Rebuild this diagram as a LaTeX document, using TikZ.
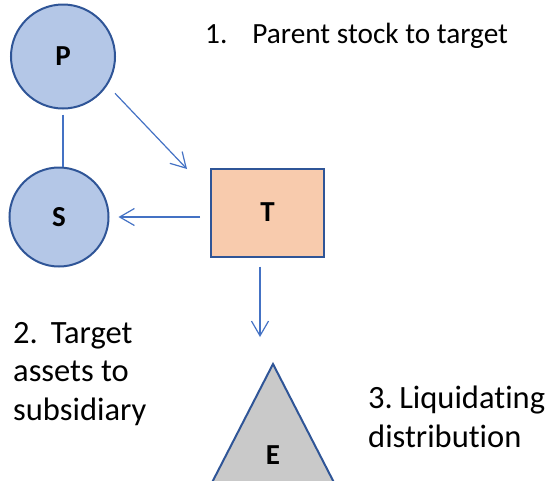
\documentclass[tikz,border=0pt]{standalone}
\usepackage{fontspec}
\setmainfont{Carlito}[Ligatures=NoCommon]
\usetikzlibrary{arrows.meta,positioning}
\definecolor{edge}{HTML}{2F5597}
\definecolor{flowblue}{HTML}{4472C4}
\definecolor{corpfill}{HTML}{B4C7E7}
\definecolor{targetfill}{HTML}{F8CBAD}
\definecolor{holderfill}{HTML}{C9C9C9}

\begin{document}
\begin{tikzpicture}[
  x=1pt, y=-1pt,
  corp/.style={circle, draw=edge, fill=corpfill, line width=2pt, inner sep=0pt,
    font=\fontsize{29}{32}\selectfont\bfseries},
  target/.style={rectangle, draw=edge, fill=targetfill, line width=2pt,
    minimum width=113pt, minimum height=88pt,
    font=\fontsize{29}{32}\selectfont\bfseries},
  letter/.style={font=\fontsize{29}{32}\selectfont\bfseries},
  holder/.style={draw=edge, fill=holderfill, line width=2pt, line join=miter},
  flow/.style={draw=flowblue, line width=1.2pt,
    -{Straight Barb[angle=60:17pt, line width=1.2pt]}},
  link/.style={draw=flowblue, line width=1.2pt},
  step note/.style={anchor=base west, align=left, inner sep=0pt,
    font=\fontsize{32.5}{38.5}\selectfont}
]
\useasboundingbox (0,0) rectangle (549,480);

\node[corp, minimum size=104pt] (P) at (63,56.5) {P};
\node[corp, minimum size=99pt] (S) at (59,217) {S};
\node[target] (T) at (267.5,212.5) {T};

% shareholder triangle runs off the bottom edge
\draw[holder] (273,364) -- (343,500) -- (203,500) -- cycle;
\node[letter] (E) at (273,455) {E};

\coordinate (tIn) at (187,169);
\coordinate (eIn) at (260,337);

\draw[link, shorten <=5pt] (P.south) -- (P.south |- S.north);
\draw[flow, shorten <=11pt] (P.-33) -- (tIn);
\draw[flow, shorten <=10pt, shorten >=9pt] (T.west |- S) -- (S);
\draw[flow, shorten <=9pt] (eIn |- T.south) -- (eIn);

% multi-line notes sit on the baseline of their last line
\node[step note, font=\fontsize{29.3}{34}\selectfont] (s1) at (205,43)
  {1.\hspace{0.85em}Parent stock to target};
\node[step note] (s2) at (13,420) {2.\hspace{0.4em}Target\\assets to\\subsidiary};
\node[step note] (s3) at (368,447) {3.\hspace{0.2em}Liquidating\\distribution};
\end{tikzpicture}
\end{document}
